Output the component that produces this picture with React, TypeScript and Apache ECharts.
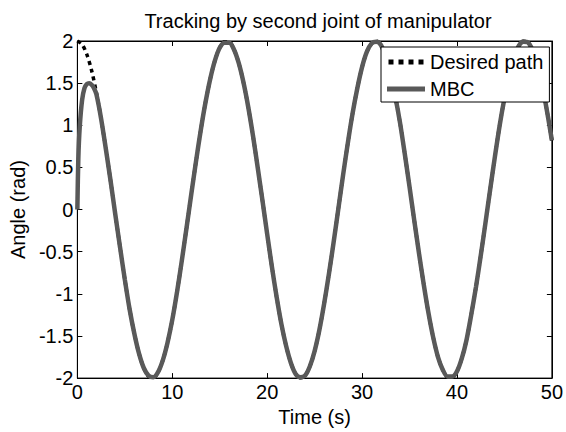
import React, { useEffect, useRef } from "react";
import * as echarts from "echarts";

const titleText = "Tracking by second joint of manipulator";
const xName = "Time (s)";
const yName = "Angle (rad)";
const seriesNames = ["Desired path", "MBC"];

const desiredTime = [
  0, 0.5, 1, 1.5, 2, 2.5, 3, 3.5, 4, 4.5, 5, 5.5, 6, 6.5, 7, 7.5, 8, 8.5, 9, 9.5,
  10, 10.5, 11, 11.5, 12, 12.5, 13, 13.5, 14, 14.5, 15, 15.5, 16, 16.5, 17, 17.5, 18, 18.5, 19, 19.5,
  20, 20.5, 21, 21.5, 22, 22.5, 23, 23.5, 24, 24.5, 25, 25.5, 26, 26.5, 27, 27.5, 28, 28.5, 29, 29.5,
  30, 30.5, 31, 31.5, 32, 32.5, 33, 33.5, 34, 34.5, 35, 35.5, 36, 36.5, 37, 37.5, 38, 38.5, 39, 39.5,
  40, 40.5, 41, 41.5, 42, 42.5, 43, 43.5, 44, 44.5, 45, 45.5, 46, 46.5, 47, 47.5, 48, 48.5, 49, 49.5, 50,
];
const desiredValues = [
  2.0, 1.96, 1.84, 1.65, 1.39, 1.08, 0.72, 0.34, -0.06, -0.45, -0.83, -1.18, -1.47, -1.71, -1.88, -1.98, -2.0, -1.93, -1.79, -1.58,
  -1.31, -0.98, -0.61, -0.22, 0.18, 0.57, 0.94, 1.27, 1.55, 1.77, 1.92, 1.99, 1.99, 1.9, 1.74, 1.51, 1.22, 0.88, 0.5, 0.11,
  -0.29, -0.68, -1.04, -1.36, -1.62, -1.82, -1.95, -2.0, -1.97, -1.86, -1.68, -1.43, -1.12, -0.77, -0.39, 0.01, 0.41, 0.79, 1.14, 1.44,
  1.69, 1.87, 1.97, 2.0, 1.95, 1.81, 1.61, 1.34, 1.03, 0.66, 0.27, -0.13, -0.52, -0.89, -1.23, -1.52, -1.75, -1.9, -1.99, -1.99,
  -1.92, -1.77, -1.55, -1.25, -0.92, -0.55, -0.16, 0.24, 0.63, 1.0, 1.32, 1.59, 1.8, 1.94, 2.0, 1.98, 1.88, 1.7, 1.46, 1.16, 0.82,
];

const mbcTime = [
  0, 0.1, 0.25, 0.5, 0.75, 1, 1.25, 1.5, 1.75, 2, 2.5, 3, 3.5, 4, 4.5, 5, 5.5, 6, 6.5, 7, 7.5, 8, 8.5, 9, 9.5,
  10, 10.5, 11, 11.5, 12, 12.5, 13, 13.5, 14, 14.5, 15, 15.5, 16, 16.5, 17, 17.5, 18, 18.5, 19, 19.5,
  20, 20.5, 21, 21.5, 22, 22.5, 23, 23.5, 24, 24.5, 25, 25.5, 26, 26.5, 27, 27.5, 28, 28.5, 29, 29.5,
  30, 30.5, 31, 31.5, 32, 32.5, 33, 33.5, 34, 34.5, 35, 35.5, 36, 36.5, 37, 37.5, 38, 38.5, 39, 39.5,
  40, 40.5, 41, 41.5, 42, 42.5, 43, 43.5, 44, 44.5, 45, 45.5, 46, 46.5, 47, 47.5, 48, 48.5, 49, 49.5, 50,
];
const mbcValues = [
  0, 0.6, 0.98, 1.3, 1.44, 1.49, 1.5, 1.48, 1.44, 1.37, 1.08, 0.72, 0.34, -0.06, -0.45, -0.83, -1.18, -1.47, -1.71, -1.88, -1.97, -1.99, -1.93, -1.79, -1.58,
  -1.31, -0.98, -0.61, -0.22, 0.18, 0.57, 0.94, 1.27, 1.55, 1.77, 1.92, 1.98, 1.98, 1.9, 1.74, 1.51, 1.22, 0.88, 0.5, 0.11,
  -0.29, -0.68, -1.04, -1.36, -1.62, -1.82, -1.95, -1.99, -1.97, -1.86, -1.68, -1.43, -1.12, -0.77, -0.39, 0.01, 0.41, 0.79, 1.14, 1.44,
  1.69, 1.87, 1.97, 1.99, 1.95, 1.81, 1.61, 1.34, 1.03, 0.66, 0.27, -0.13, -0.52, -0.89, -1.23, -1.52, -1.75, -1.9, -1.98, -1.98,
  -1.92, -1.77, -1.55, -1.25, -0.92, -0.55, -0.16, 0.24, 0.63, 1.0, 1.32, 1.59, 1.8, 1.94, 1.99, 1.98, 1.88, 1.7, 1.46, 1.16, 0.82,
];

const FONT = "'Liberation Sans', Arial, Helvetica, sans-serif";
const FS = 20;

const dottedIcon = "path://M0 0h5v5h-5zM10 0h5v5h-5zM20 0h5v5h-5zM30 0h5v5h-5z";
const solidIcon = "path://M0 0h38v5h-38z";

export default function App() {
  const ref = useRef<HTMLDivElement | null>(null);
  useEffect(() => {
    document.body.style.margin = "0";
    if (!ref.current) return;
    const chart = echarts.init(ref.current, null, { renderer: "svg" });
    const axisCommon = {
      type: "value" as const,
      axisLine: { show: true, onZero: false, lineStyle: { color: "#000", width: 1 } },
      axisTick: { show: true, inside: true, length: 5, lineStyle: { color: "#000" } },
      splitLine: { show: false },
    };
    chart.setOption({
      animation: false,
      backgroundColor: "#fff",
      textStyle: { fontFamily: FONT },
      title: {
        text: titleText,
        left: 313,
        top: 6,
        textAlign: "center",
        textStyle: { fontFamily: FONT, fontSize: FS, fontWeight: "normal", color: "#000" },
      },
      grid: {
        left: 72,
        right: 13,
        top: 41,
        bottom: 53,
        show: true,
        borderColor: "#000",
        borderWidth: 1,
        backgroundColor: "#fff",
      },
      legend: {
        orient: "vertical",
        left: 381,
        top: 47,
        padding: [5, 6, 3, 6],
        itemWidth: 38,
        itemHeight: 5,
        itemGap: 7,
        itemStyle: { borderWidth: 0 },
        backgroundColor: "#fff",
        borderColor: "#000",
        borderWidth: 1,
        borderRadius: 0,
        data: [
          { name: seriesNames[0], icon: dottedIcon },
          { name: seriesNames[1], icon: solidIcon },
        ],
        textStyle: { fontFamily: FONT, fontSize: FS, color: "#000", lineHeight: 20 },
      },
      xAxis: [
        {
          ...axisCommon,
          min: 0,
          max: 50,
          interval: 10,
          name: xName,
          nameLocation: "middle",
          nameGap: 28,
          nameTextStyle: { fontFamily: FONT, fontSize: FS, color: "#000" },
          axisLabel: { fontFamily: FONT, fontSize: FS, color: "#000", margin: 4 },
        },
        {
          ...axisCommon,
          position: "top",
          min: 0,
          max: 50,
          interval: 10,
          axisLabel: { show: false },
        },
      ],
      yAxis: [
        {
          ...axisCommon,
          min: -2,
          max: 2,
          interval: 0.5,
          name: yName,
          nameLocation: "middle",
          nameGap: 45,
          nameTextStyle: { fontFamily: FONT, fontSize: FS, color: "#000" },
          axisLabel: { fontFamily: FONT, fontSize: FS, color: "#000", margin: 4 },
        },
        {
          ...axisCommon,
          position: "right",
          min: -2,
          max: 2,
          interval: 0.5,
          axisLabel: { show: false },
        },
      ],
      series: [
        {
          name: seriesNames[0],
          type: "line",
          xAxisIndex: 0,
          yAxisIndex: 0,
          data: desiredTime.map((t, i) => [t, desiredValues[i]]),
          showSymbol: false,
          symbol: "none",
          smooth: 0.3,
          lineStyle: { color: "#000", width: 3.5, type: [4, 4], cap: "butt" },
          itemStyle: { color: "#000" },
          z: 2,
        },
        {
          name: seriesNames[1],
          type: "line",
          xAxisIndex: 0,
          yAxisIndex: 0,
          data: mbcTime.map((t, i) => [t, mbcValues[i]]),
          showSymbol: false,
          symbol: "none",
          smooth: 0.3,
          lineStyle: { color: "#595959", width: 4.5 },
          itemStyle: { color: "#595959" },
          z: 3,
        },
      ],
    });
    return () => chart.dispose();
  }, []);
  return <div ref={ref} style={{ width: 566, height: 432 }} />;
}
